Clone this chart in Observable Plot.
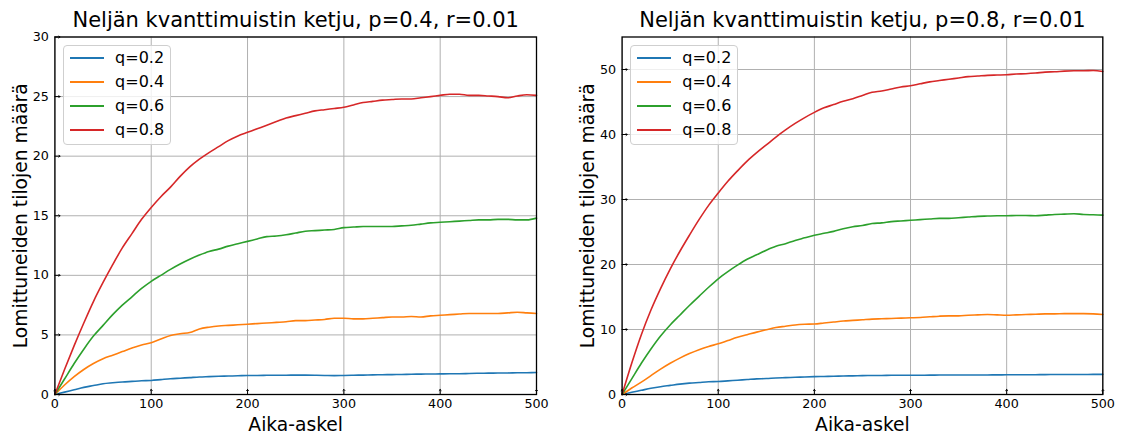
<!DOCTYPE html>
<html>
<head>
<meta charset="utf-8">
<script src="https://cdn.jsdelivr.net/npm/d3@7"></script>
<script src="https://cdn.jsdelivr.net/npm/@observablehq/plot@0.6"></script>
<style>
  body { margin: 0; background: white; }
  #fig { position: relative; width: 1127px; height: 437px; font-family: "DejaVu Sans", sans-serif; background: white; overflow: hidden; }
  .panel { position: absolute; top: 0; height: 437px; }
  .legend { position: absolute; border: 1px solid #cfcfcf; border-radius: 4px; background: rgba(255,255,255,0.8); box-sizing: border-box; }
  .legend .ln { position: absolute; height: 2px; }
  .legend .tx { position: absolute; font-size: 16px; line-height: 24px; height: 24px; white-space: nowrap; color: #000; }
</style>
</head>
<body>
<div id="fig"></div>
<script>
// ---- data ----
const steps = [0,10,20,30,40,50,60,70,80,90,100,110,120,130,140,150,160,170,180,190,200,210,220,230,240,250,260,270,280,290,300,310,320,330,340,350,360,370,380,390,400,410,420,430,440,450,460,470,480,490,500];
const qLabels = ["q=0.2", "q=0.4", "q=0.6", "q=0.8"];
const colors = ["#1f77b4", "#ff7f0e", "#2ca02c", "#d62728"];

const titles = ["Neljän kvanttimuistin ketju, p=0.4, r=0.01", "Neljän kvanttimuistin ketju, p=0.8, r=0.01"];
const xLabel = "Aika-askel";
const yLabel = "Lomittuneiden tilojen määrä";
const xTicks = [0, 100, 200, 300, 400, 500];
const yTicksLeft = [0, 5, 10, 15, 20, 25, 30];
const yTicksRight = [0, 10, 20, 30, 40, 50];
const yMaxLeft = 30;
const yMaxRight = 55;

// p=0.4
const leftQ02 = [0,0.2,0.4,0.6,0.75,0.9,0.98,1.05,1.1,1.15,1.18,1.25,1.32,1.37,1.42,1.47,1.5,1.53,1.55,1.57,1.6,1.6,1.61,1.62,1.62,1.63,1.63,1.62,1.6,1.58,1.6,1.62,1.63,1.65,1.66,1.67,1.68,1.7,1.71,1.72,1.73,1.74,1.74,1.76,1.78,1.79,1.8,1.81,1.82,1.83,1.84];
const leftQ04 = [0,0.8,1.5,2.1,2.6,3.0,3.3,3.6,3.9,4.15,4.35,4.65,4.95,5.1,5.2,5.5,5.65,5.75,5.8,5.85,5.9,5.95,6.0,6.05,6.1,6.2,6.2,6.25,6.3,6.4,6.4,6.35,6.35,6.4,6.45,6.5,6.5,6.55,6.5,6.6,6.65,6.7,6.75,6.8,6.8,6.8,6.8,6.85,6.9,6.85,6.8];
const leftQ06 = [0,1.3,2.6,3.8,4.9,5.8,6.7,7.5,8.2,8.9,9.5,10.0,10.5,10.95,11.35,11.7,12.0,12.2,12.45,12.65,12.85,13.05,13.25,13.3,13.4,13.55,13.7,13.75,13.8,13.85,14.0,14.05,14.1,14.1,14.1,14.1,14.15,14.2,14.3,14.4,14.45,14.5,14.55,14.6,14.65,14.65,14.7,14.7,14.65,14.65,14.8];
const leftQ08 = [0,2.1,4.1,6.0,7.8,9.4,10.9,12.3,13.5,14.7,15.7,16.6,17.4,18.3,19.1,19.75,20.3,20.8,21.3,21.7,22.0,22.3,22.6,22.9,23.2,23.4,23.6,23.8,23.9,24.0,24.1,24.3,24.5,24.6,24.7,24.75,24.8,24.8,24.9,25.0,25.1,25.2,25.2,25.1,25.1,25.05,25.0,24.9,25.05,25.15,25.1];

// p=0.8
const rightQ02 = [0,0.35,0.65,0.95,1.2,1.4,1.6,1.75,1.85,1.95,2.0,2.1,2.2,2.3,2.4,2.45,2.55,2.6,2.65,2.7,2.75,2.78,2.8,2.85,2.87,2.9,2.92,2.93,2.95,2.96,2.97,2.97,2.98,2.99,3.0,3.0,3.0,3.0,3.01,3.02,3.03,3.04,3.05,3.05,3.06,3.07,3.07,3.08,3.08,3.09,3.1];
const rightQ04 = [0,1.0,1.9,2.9,3.9,4.8,5.6,6.3,6.9,7.4,7.8,8.3,8.8,9.2,9.6,9.95,10.3,10.5,10.7,10.8,10.85,11.0,11.15,11.3,11.4,11.5,11.6,11.65,11.7,11.75,11.8,11.85,11.95,12.05,12.1,12.1,12.2,12.25,12.3,12.25,12.2,12.25,12.3,12.35,12.4,12.4,12.45,12.45,12.45,12.4,12.3];
const rightQ06 = [0,2.4,4.8,7.0,9.0,10.7,12.2,13.7,15.1,16.5,17.8,18.9,19.9,20.8,21.5,22.2,22.8,23.2,23.7,24.1,24.5,24.8,25.1,25.5,25.8,26.0,26.3,26.4,26.6,26.7,26.8,26.9,27.0,27.1,27.1,27.2,27.3,27.4,27.45,27.5,27.5,27.55,27.55,27.5,27.6,27.7,27.75,27.8,27.7,27.65,27.6];
const rightQ08 = [0,4.8,9.2,13.0,16.3,19.3,22.0,24.5,26.9,29.1,31.0,32.8,34.4,35.9,37.2,38.4,39.6,40.7,41.7,42.6,43.4,44.1,44.6,45.1,45.5,46.0,46.5,46.7,47.0,47.3,47.5,47.8,48.1,48.3,48.5,48.7,48.9,49.0,49.1,49.15,49.2,49.3,49.35,49.45,49.6,49.65,49.75,49.8,49.8,49.85,49.7];

// ---- drawing ----
function makeRows(seriesList) {
  const rows = [];
  seriesList.forEach((s, i) => s.forEach((v, j) => rows.push({t: steps[j], v, q: qLabels[i]})));
  return rows;
}

function panel({left, width, marginLeft, marginRight, series, yMax, yTicks, title}) {
  const div = document.createElement("div");
  div.className = "panel";
  div.style.left = left + "px";
  div.style.width = width + "px";
  const rows = makeRows(series);
  const chart = Plot.plot({
    width, height: 437,
    marginTop: 36.5, marginBottom: 43, marginLeft, marginRight,
    x: {domain: [0, 500]},
    y: {domain: [0, yMax]},
    color: {domain: qLabels, range: colors},
    style: {background: "white", color: "black", fontFamily: "DejaVu Sans, sans-serif", fontSize: "12.7px", overflow: "visible"},
    marks: [
      Plot.gridX(xTicks, {stroke: "#b0b0b0", strokeOpacity: 1, strokeWidth: 1}),
      Plot.gridY(yTicks, {stroke: "#b0b0b0", strokeOpacity: 1, strokeWidth: 1}),
      Plot.line(rows, {x: "t", y: "v", z: "q", stroke: "q", strokeWidth: 1.6, curve: "monotone-x"}),
      Plot.frame({stroke: "black", strokeWidth: 1.3}),
      Plot.vector(xTicks, {x: d => d, frameAnchor: "bottom", length: 5, rotate: 0, anchor: "start", stroke: "black", strokeWidth: 1}),
      Plot.vector(yTicks, {y: d => d, frameAnchor: "left", length: 5, rotate: 90, anchor: "start", stroke: "black", strokeWidth: 1}),
      Plot.axisX(xTicks, {tickSize: 0, tickPadding: 4, label: null, fontSize: 12.7}),
      Plot.axisY(yTicks, {tickSize: 0, tickPadding: 6, label: null, fontSize: 12.7}),
      Plot.text([xLabel], {text: d => d, frameAnchor: "bottom", textAnchor: "middle", lineAnchor: "middle", dy: 31, fontSize: 18.7}),
      Plot.text([yLabel], {text: d => d, frameAnchor: "left", textAnchor: "middle", lineAnchor: "middle", dx: -34, rotate: -90, fontSize: 18.7}),
      Plot.text([title], {text: d => d, frameAnchor: "top", textAnchor: "middle", lineAnchor: "middle", dy: -16.5, fontSize: 21})
    ]
  });
  div.appendChild(chart);

  // legend
  const lg = document.createElement("div");
  lg.className = "legend";
  lg.style.left = (marginLeft + 8.7) + "px";
  lg.style.top = "45px";
  lg.style.width = "108px";
  lg.style.height = "99.5px";
  qLabels.forEach((q, i) => {
    const cy = 12.3 + 24 * i;
    const ln = document.createElement("div");
    ln.className = "ln";
    ln.style.left = "5.5px";
    ln.style.width = "34px";
    ln.style.top = (cy - 1) + "px";
    ln.style.background = colors[i];
    lg.appendChild(ln);
    const tx = document.createElement("div");
    tx.className = "tx";
    tx.style.left = "51px";
    tx.style.top = (cy - 12) + "px";
    tx.textContent = q;
    lg.appendChild(tx);
  });
  div.appendChild(lg);
  return div;
}

const fig = document.getElementById("fig");
fig.appendChild(panel({left: 0, width: 560, marginLeft: 54.4, marginRight: 24,
  series: [leftQ02, leftQ04, leftQ06, leftQ08], yMax: yMaxLeft, yTicks: yTicksLeft, title: titles[0]}));
fig.appendChild(panel({left: 560, width: 567, marginLeft: 61.6, marginRight: 24.7,
  series: [rightQ02, rightQ04, rightQ06, rightQ08], yMax: yMaxRight, yTicks: yTicksRight, title: titles[1]}));
</script>
</body>
</html>
